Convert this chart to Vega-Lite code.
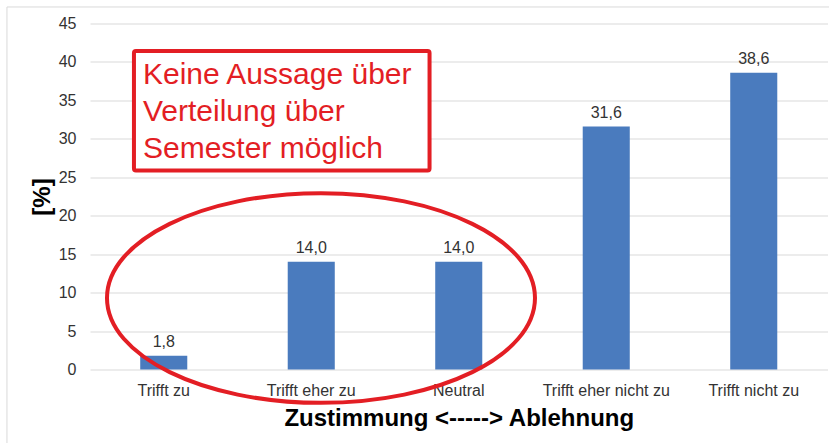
{
  "$schema": "https://vega.github.io/schema/vega-lite/v6.json",
  "width": 737.5,
  "height": 346,
  "autosize": {"type": "none"},
  "padding": {"left": 90, "top": 23.5, "right": 1.5, "bottom": 73.5},
  "background": "white",
  "config": {
    "locale": {"number": {"decimal": ",", "thousands": ".", "grouping": [3], "currency": ["", " €"]}},
    "font": "Liberation Sans",
    "view": {"stroke": null}
  },
  "layer": [
    {
      "data": {"values": [{"frame": "Rahmen"}]},
      "mark": {"type": "rect", "fill": null, "stroke": "#d9d9d9", "strokeWidth": 1},
      "encoding": {
        "x": {"datum": -0.563, "type": "quantitative", "scale": {"domain": [0, 5], "nice": false, "zero": false}, "axis": null},
        "x2": {"datum": 6},
        "y": {"datum": 47.15, "type": "quantitative", "scale": {"domain": [0, 45], "nice": false}, "axis": null},
        "y2": {"datum": -15}
      }
    },
    {
      "data": {"values": [
        {"kategorie": "Trifft zu", "prozent": 1.8},
        {"kategorie": "Trifft eher zu", "prozent": 14.0},
        {"kategorie": "Neutral", "prozent": 14.0},
        {"kategorie": "Trifft eher nicht zu", "prozent": 31.6},
        {"kategorie": "Trifft nicht zu", "prozent": 38.6}
      ]},
      "encoding": {
        "x": {
          "field": "kategorie", "type": "nominal", "sort": null,
          "scale": {"paddingInner": 0.681, "paddingOuter": 0.3405},
          "title": "Zustimmung <-----> Ablehnung",
          "axis": {
            "labelAngle": 0, "domain": false, "ticks": false, "tickSize": 0,
            "labelFontSize": 16, "labelColor": "#333333", "labelPadding": 13,
            "labelFont": "Liberation Sans",
            "titleFont": "Liberation Sans", "titleFontSize": 24, "titleFontWeight": "bold",
            "titleColor": "#000000", "titlePadding": 8
          }
        },
        "y": {
          "field": "prozent", "type": "quantitative",
          "scale": {"domain": [0, 45], "nice": false},
          "title": "[%]",
          "axis": {
            "values": [0, 5, 10, 15, 20, 25, 30, 35, 40, 45],
            "grid": true, "gridColor": "#d9d9d9", "gridWidth": 1,
            "domain": false, "ticks": false, "tickSize": 0,
            "labelFontSize": 16, "labelColor": "#333333", "labelPadding": 14,
            "labelFont": "Liberation Sans",
            "titleFont": "Liberation Sans", "titleFontSize": 24, "titleFontWeight": "bold",
            "titleColor": "#000000", "titlePadding": 4
          }
        }
      },
      "layer": [
        {"mark": {"type": "bar", "color": "#4a7bbe"}},
        {
          "mark": {"type": "text", "dy": -9, "baseline": "alphabetic", "fontSize": 16, "color": "#333333", "font": "Liberation Sans"},
          "encoding": {"text": {"field": "prozent", "type": "quantitative", "format": ".1f"}}
        }
      ]
    },
    {
      "data": {"values": [{"box": "Hinweis"}]},
      "mark": {"type": "rect", "fill": "white", "stroke": "#e31e24", "strokeWidth": 4, "cornerRadius": 2},
      "encoding": {
        "x": {"datum": 0.298, "type": "quantitative", "scale": {"domain": [0, 5], "nice": false, "zero": false}, "axis": null},
        "x2": {"datum": 2.302},
        "y": {"datum": 41.42, "type": "quantitative", "scale": {"domain": [0, 45], "nice": false}, "axis": null},
        "y2": {"datum": 25.88}
      }
    },
    {
      "data": {"values": [{"note": "Keine Aussage über\nVerteilung über\nSemester möglich"}]},
      "mark": {"type": "text", "align": "left", "baseline": "alphabetic", "fontSize": 30, "color": "#e31e24", "lineHeight": 37, "lineBreak": "\n", "font": "Liberation Sans"},
      "encoding": {
        "x": {"datum": 0.359, "type": "quantitative", "scale": {"domain": [0, 5], "nice": false, "zero": false}, "axis": null},
        "y": {"datum": 37.13, "type": "quantitative", "scale": {"domain": [0, 45], "nice": false}, "axis": null},
        "text": {"field": "note"}
      }
    },
    {
      "data": {"values": [{"ellipse": "Markierung"}]},
      "mark": {"type": "point", "shape": "M-1,0A1,0.49 0 1,1 1,0A1,0.49 0 1,1 -1,0Z", "size": 183184, "filled": false, "stroke": "#e31e24", "strokeWidth": 4, "opacity": 1},
      "encoding": {
        "x": {"datum": 1.566, "type": "quantitative", "scale": {"domain": [0, 5], "nice": false, "zero": false}, "axis": null},
        "y": {"datum": 9.3, "type": "quantitative", "scale": {"domain": [0, 45], "nice": false}, "axis": null}
      }
    }
  ],
  "resolve": {"scale": {"x": "independent", "y": "independent"}}
}
